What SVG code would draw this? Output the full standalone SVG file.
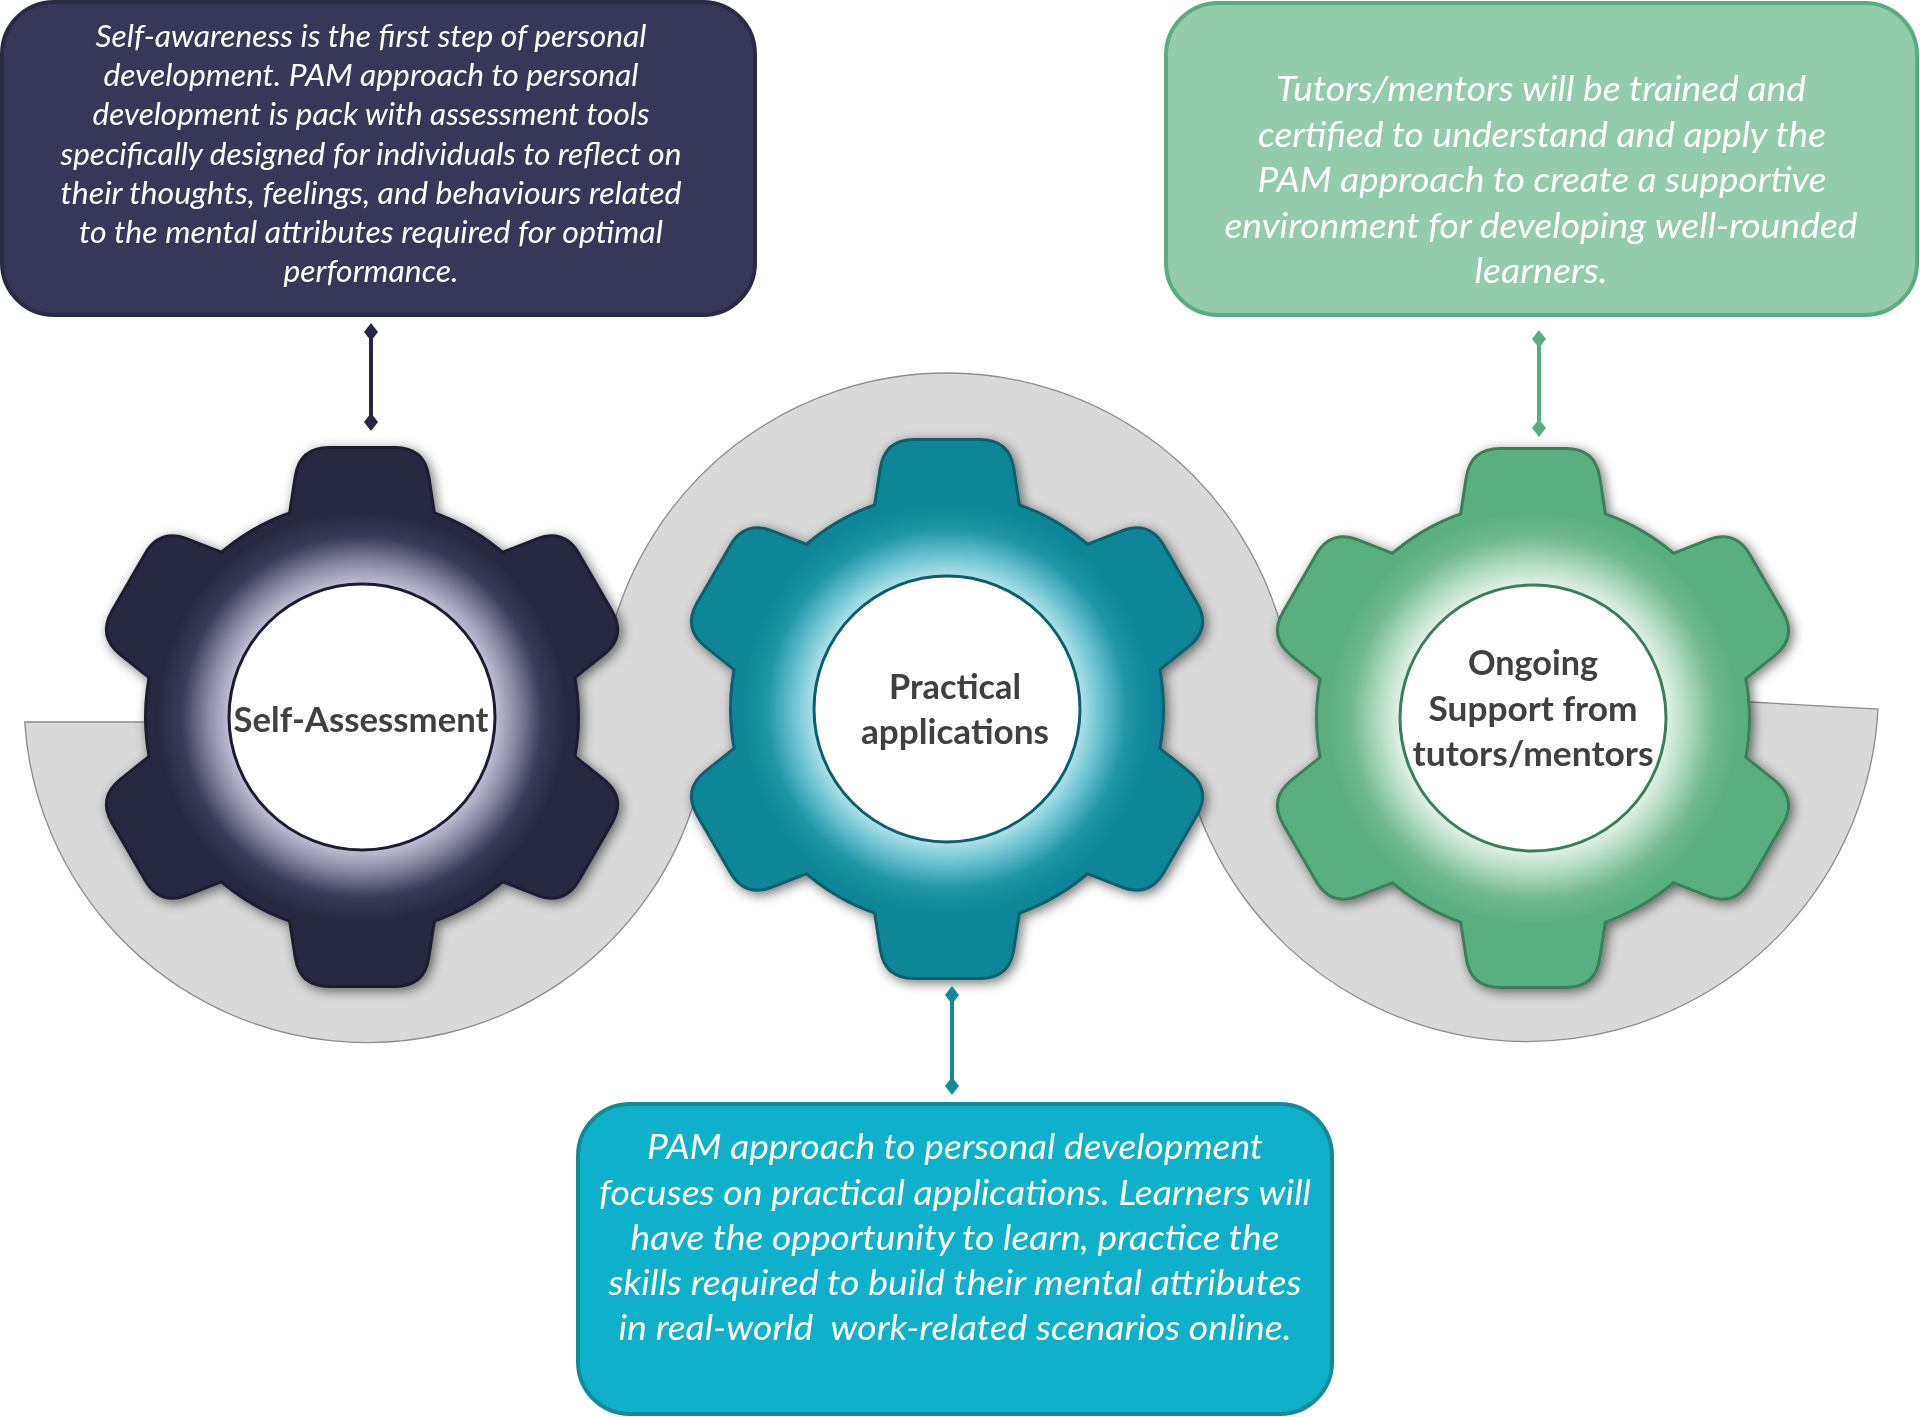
<svg xmlns="http://www.w3.org/2000/svg" width="1920" height="1417" viewBox="0 0 1920 1417">
<style>
.body{font-family:Lato,"Liberation Sans",sans-serif;font-style:italic;fill:#ffffff;text-anchor:middle}
.s1{font-size:30px}
.s2{font-size:34.5px}
.lbl{font-family:Lato,"Liberation Sans",sans-serif;font-weight:bold;font-size:35px;fill:#404040;text-anchor:middle}
.band{fill:#d9d9d9;stroke:#8c8c8c;stroke-width:1.3}
.box{stroke-width:4}
</style>
<defs>
<filter id="sh" x="-20%" y="-20%" width="140%" height="140%">
<feDropShadow dx="3" dy="3" stdDeviation="6" flood-color="#000" flood-opacity="0.55"/>
</filter>
<path id="tooth" d="M -73,-190 L -65.3,-240.3 Q -61,-268 -33,-268 L 33,-268 Q 61,-268 65.3,-240.3 L 73,-190 Z"/>
<g id="gear">
<circle r="215"/>
<use href="#tooth"/>
<use href="#tooth" transform="rotate(60)"/>
<use href="#tooth" transform="rotate(120)"/>
<use href="#tooth" transform="rotate(180)"/>
<use href="#tooth" transform="rotate(240)"/>
<use href="#tooth" transform="rotate(300)"/>
</g>
<radialGradient id="glowL" gradientUnits="userSpaceOnUse" cx="0" cy="0" r="205">
<stop offset="0.64" stop-color="#c4c4d8"/>
<stop offset="0.75" stop-color="#8a8aa6"/>
<stop offset="0.88" stop-color="#3a3b58"/>
<stop offset="1" stop-color="#272842"/>
</radialGradient>
<radialGradient id="glowM" gradientUnits="userSpaceOnUse" cx="0" cy="0" r="205">
<stop offset="0.64" stop-color="#b5e4ec"/>
<stop offset="0.75" stop-color="#6cc3d0"/>
<stop offset="0.88" stop-color="#1f95a5"/>
<stop offset="1" stop-color="#0e8697"/>
</radialGradient>
<radialGradient id="glowR" gradientUnits="userSpaceOnUse" cx="0" cy="0" r="205">
<stop offset="0.64" stop-color="#e6f3eb"/>
<stop offset="0.75" stop-color="#b3dcc4"/>
<stop offset="0.88" stop-color="#73ba92"/>
<stop offset="1" stop-color="#5aaf80"/>
</radialGradient>
<marker id="dL" viewBox="-8 -10 16 20" markerWidth="16" markerHeight="20" markerUnits="userSpaceOnUse" refX="0" refY="0" orient="0"><path d="M0,-9 L7,0 L0,9 L-7,0 Z" fill="#262740"/></marker>
<marker id="dM" viewBox="-8 -10 16 20" markerWidth="16" markerHeight="20" markerUnits="userSpaceOnUse" refX="0" refY="0" orient="0"><path d="M0,-9 L7,0 L0,9 L-7,0 Z" fill="#138a9a"/></marker>
<marker id="dR" viewBox="-8 -10 16 20" markerWidth="16" markerHeight="20" markerUnits="userSpaceOnUse" refX="0" refY="0" orient="0"><path d="M0,-9 L7,0 L0,9 L-7,0 Z" fill="#5aad80"/></marker>
</defs>

<rect width="1920" height="1417" fill="#ffffff"/>

<g id="band">
<path class="band" d="M 250,722 L 24.7,722 A 343 343 0 0 0 697,793 L 760,780 L 947,800 L 1134,780 L 1194,800 A 351 351 0 0 0 1878,709 L 1750,702 L 1650,700 L 1400,660 L 1283.7,636.1 A 347 347 0 0 0 610.3,636.1 L 500,650 Z"/>
</g>

<g id="gear-self-assessment" transform="translate(362,717)">
<use href="#gear" fill="#272842" stroke="#1b1c30" stroke-width="6" filter="url(#sh)"/>
<use href="#gear" fill="#272842"/>
<circle r="205" fill="url(#glowL)"/>
<circle r="133" fill="#ffffff" stroke="#1b1c30" stroke-width="3"/>
<text class="lbl" x="-1" y="15" textLength="255" lengthAdjust="spacingAndGlyphs">Self-Assessment</text>
</g>

<g id="gear-practical" transform="translate(947,709)">
<use href="#gear" fill="#0e8697" stroke="#0b5e6a" stroke-width="6" filter="url(#sh)"/>
<use href="#gear" fill="#0e8697"/>
<circle r="205" fill="url(#glowM)"/>
<circle r="133" fill="#ffffff" stroke="#0b5e6a" stroke-width="3"/>
<text class="lbl" x="8" y="-10" textLength="132" lengthAdjust="spacingAndGlyphs">Practical</text>
<text class="lbl" x="8" y="35" textLength="188" lengthAdjust="spacingAndGlyphs">applications</text>
</g>

<g id="gear-support" transform="translate(1533,718)">
<use href="#gear" fill="#5aaf80" stroke="#3b7f58" stroke-width="6" filter="url(#sh)"/>
<use href="#gear" fill="#5aaf80"/>
<circle r="205" fill="url(#glowR)"/>
<circle r="133" fill="#ffffff" stroke="#3b7f58" stroke-width="3"/>
<text class="lbl" x="0" y="-43" textLength="130" lengthAdjust="spacingAndGlyphs">Ongoing</text>
<text class="lbl" x="0" y="3" textLength="209" lengthAdjust="spacingAndGlyphs">Support from</text>
<text class="lbl" x="0" y="48" textLength="241" lengthAdjust="spacingAndGlyphs">tutors/mentors</text>
</g>

<g id="box-self-awareness">
<rect class="box" x="2" y="2" width="753" height="313" rx="52" fill="#363759" stroke="#292a45"/>
<text class="body s1" x="371" y="47" textLength="551" lengthAdjust="spacingAndGlyphs">Self-awareness is the first step of personal</text>
<text class="body s1" x="371" y="86" textLength="535" lengthAdjust="spacingAndGlyphs">development. PAM approach to personal</text>
<text class="body s1" x="371" y="125" textLength="557" lengthAdjust="spacingAndGlyphs">development is pack with assessment tools</text>
<text class="body s1" x="371" y="165" textLength="621" lengthAdjust="spacingAndGlyphs">specifically designed for individuals to reflect on</text>
<text class="body s1" x="371" y="204" textLength="621" lengthAdjust="spacingAndGlyphs">their thoughts, feelings, and behaviours related</text>
<text class="body s1" x="371" y="243" textLength="584" lengthAdjust="spacingAndGlyphs">to the mental attributes required for optimal</text>
<text class="body s1" x="371" y="282" textLength="175" lengthAdjust="spacingAndGlyphs">performance.</text>
</g>

<g id="box-tutors">
<rect class="box" x="1166" y="3" width="751" height="312" rx="52" fill="#95cbad" stroke="#5aad80"/>
<text class="body s2" x="1541" y="101" textLength="530" lengthAdjust="spacingAndGlyphs">Tutors/mentors will be trained and</text>
<text class="body s2" x="1542" y="147" textLength="568" lengthAdjust="spacingAndGlyphs">certified to understand and apply the</text>
<text class="body s2" x="1542" y="192" textLength="569" lengthAdjust="spacingAndGlyphs">PAM approach to create a supportive</text>
<text class="body s2" x="1541" y="238" textLength="633" lengthAdjust="spacingAndGlyphs">environment for developing well-rounded</text>
<text class="body s2" x="1541" y="283" textLength="133" lengthAdjust="spacingAndGlyphs">learners.</text>
</g>

<g id="box-practical">
<rect class="box" x="578" y="1104" width="754" height="310" rx="52" fill="#0fb1ca" stroke="#138a9a"/>
<text class="body s2" x="955" y="1159" textLength="616" lengthAdjust="spacingAndGlyphs">PAM approach to personal development</text>
<text class="body s2" x="955" y="1205" textLength="712" lengthAdjust="spacingAndGlyphs">focuses on practical applications. Learners will</text>
<text class="body s2" x="955" y="1250" textLength="649" lengthAdjust="spacingAndGlyphs">have the opportunity to learn, practice the</text>
<text class="body s2" x="955" y="1295" textLength="693" lengthAdjust="spacingAndGlyphs">skills required to build their mental attributes</text>
<text class="body s2" x="955" y="1340" textLength="673" lengthAdjust="spacingAndGlyphs" xml:space="preserve">in real-world  work-related scenarios online.</text>
</g>

<g id="connectors">
<line x1="371" y1="332" x2="371" y2="422" stroke="#262740" stroke-width="4" marker-start="url(#dL)" marker-end="url(#dL)"/>
<line x1="952" y1="995" x2="952" y2="1086" stroke="#138a9a" stroke-width="4" marker-start="url(#dM)" marker-end="url(#dM)"/>
<line x1="1539" y1="339" x2="1539" y2="428" stroke="#5aad80" stroke-width="4" marker-start="url(#dR)" marker-end="url(#dR)"/>
</g>
</svg>
